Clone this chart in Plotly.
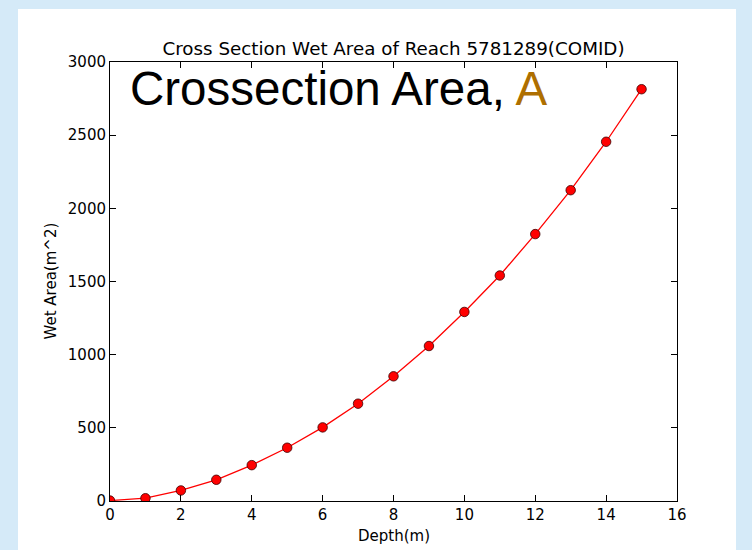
import plotly.graph_objects as go

depth = [0, 1, 2, 3, 4, 5, 6, 7, 8, 9, 10, 11, 12, 13, 14, 15]
wet_area = [3, 19, 72, 145, 245, 364, 503, 665, 852, 1059, 1292, 1541, 1824, 2124, 2455, 2814]
x_ticks = [0, 2, 4, 6, 8, 10, 12, 14, 16]
y_ticks = [0, 500, 1000, 1500, 2000, 2500, 3000]

W, H = 752, 550
L, R, T, B = 110, 75, 62, 49
pw, ph = W - L - R, H - T - B

def px_x(p):
    return (p - L) / pw

def px_y(p):
    return (H - B - p) / ph

fig = go.Figure()
fig.add_trace(go.Scatter(
    x=depth, y=wet_area, mode="lines+markers",
    line=dict(color="#ff0000", width=1.3),
    marker=dict(color="#ff0000", size=9.5, line=dict(color="#3a0000", width=0.8)),
    cliponaxis=True, showlegend=False,
))

font_main = "DejaVu Sans"
fig.update_layout(
    width=W, height=H, autosize=False,
    margin=dict(l=L, r=R, t=T, b=B, autoexpand=False),
    paper_bgcolor="#d5eaf8",
    plot_bgcolor="#ffffff",
    font=dict(family=font_main, size=15, color="#000000"),
    title=dict(text="Cross Section Wet Area of Reach 5781289(COMID)",
               x=(L + pw / 2) / W, xanchor="center", xref="container",
               y=1 - 49 / H, yanchor="middle", yref="container",
               font=dict(family=font_main, size=18.3, color="#000000")),
    xaxis=dict(range=[0, 16], tickvals=x_ticks, ticks="inside", ticklen=6,
               tickcolor="#000000", showline=True, linecolor="#000000", linewidth=1,
               mirror="ticks", showgrid=False, zeroline=False, automargin=False,
               tickfont=dict(family=font_main, size=15)),
    yaxis=dict(range=[0, 3000], tickvals=y_ticks, ticks="inside", ticklen=6,
               tickcolor="#000000", showline=True, linecolor="#000000", linewidth=1,
               mirror="ticks", showgrid=False, zeroline=False, automargin=False,
               tickfont=dict(family=font_main, size=15)),
    shapes=[dict(type="rect", xref="paper", yref="paper",
                 x0=px_x(18), x1=px_x(736), y0=px_y(552), y1=px_y(9),
                 fillcolor="#ffffff", line=dict(width=0), layer="below")],
    annotations=[
        dict(text="Crossection Area, <span style='color:#ae6f00'>A</span>",
             xref="paper", yref="paper", x=px_x(128), y=px_y(88),
             xanchor="left", yanchor="middle", showarrow=False,
             font=dict(family="Liberation Sans", size=47.5, color="#000000")),
        dict(text="Depth(m)", xref="paper", yref="paper",
             x=0.5, y=px_y(536), xanchor="center", yanchor="middle",
             showarrow=False, font=dict(family=font_main, size=15)),
        dict(text="Wet Area(m^2)", xref="paper", yref="paper", textangle=-90,
             x=px_x(50), y=0.5, xanchor="center", yanchor="middle",
             showarrow=False, font=dict(family=font_main, size=15)),
    ],
)

fig.write_html("out.html", config={"displayModeBar": False},
               post_script="document.body.style.margin='0';")
